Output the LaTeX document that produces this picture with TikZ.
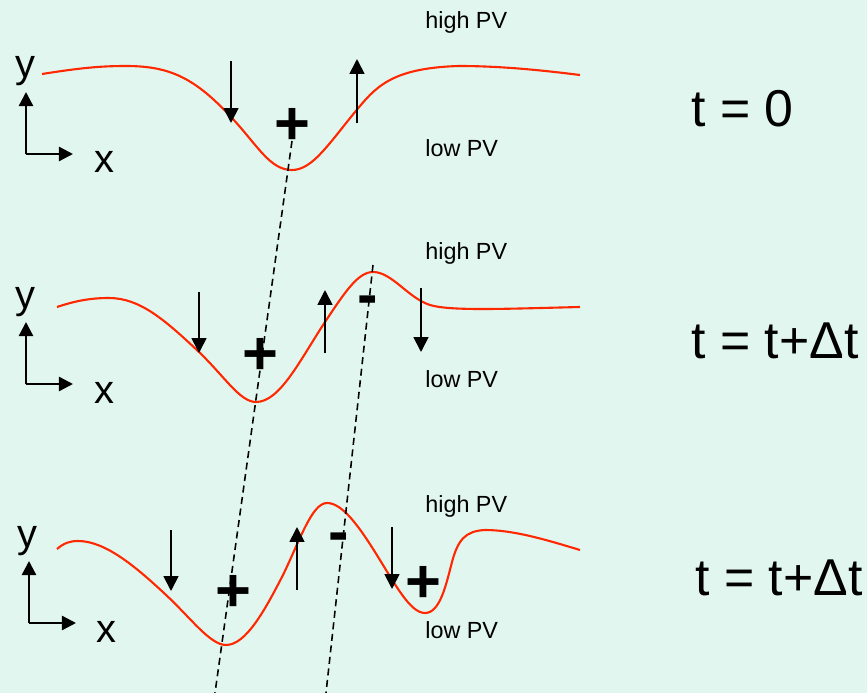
\documentclass[tikz,border=0pt]{standalone}
\usepackage{fontspec}
\setmainfont{Liberation Sans}
\usetikzlibrary{arrows.meta}
\definecolor{bgmint}{RGB}{226,246,240}
\definecolor{wavered}{RGB}{255,40,0}

\begin{document}
\begin{tikzpicture}[
    x=0.02cm, y=-0.02cm,
    wave/.style={draw=wavered, line width=1.2pt},
    wind/.style={-{Triangle[length=8.5pt,width=8.5pt]}, line width=1pt},
    axis/.style={-{Triangle[length=8pt,width=8pt]}, line width=1.4pt},
    front/.style={dash pattern=on 4pt off 2.6pt, line width=0.9pt},
    pv/.style={anchor=base west, inner sep=0pt, font=\fontsize{13.3}{16}\selectfont},
    lab/.style={anchor=base west, inner sep=0pt, font=\fontsize{22.7}{26}\selectfont},
    tlab/.style={anchor=base west, inner sep=0pt, font=\fontsize{29.5}{34}\selectfont},
    sign/.style={inner sep=0pt, font=\fontsize{35}{35}\selectfont\bfseries},
    >=Stealth
  ]
    \fill[bgmint] (0,0) rectangle (867,693);
    \useasboundingbox (0,0) rectangle (867,693);

    % wave crests, one row per time
    \draw[wave] (42,74) .. controls (80,68) and (100,66) .. (126,66)
      .. controls (170,66) and (195,78) .. (232,118)
      .. controls (258,146) and (270,170) .. (292,170)
      .. controls (312,170) and (328,145) .. (355,112)
      .. controls (375,88) and (390,68) .. (459,66)
      .. controls (500,66) and (540,70) .. (580,75);
    \draw[wave] (57,307) .. controls (75,301) and (90,298) .. (109,298)
      .. controls (140,298) and (165,320) .. (199,352)
      .. controls (225,377) and (240,402) .. (256,402)
      .. controls (280,402) and (300,360) .. (325,322)
      .. controls (345,292) and (358,272) .. (373,272)
      .. controls (392,272) and (408,298) .. (430,305)
      .. controls (450,311) and (500,309) .. (580,307);
    \draw[wave] (57,549) .. controls (64,543) and (70,541) .. (78,541)
      .. controls (105,541) and (135,566) .. (165,594)
      .. controls (190,617) and (210,645) .. (226,645)
      .. controls (246,645) and (265,610) .. (283,575)
      .. controls (300,540) and (312,503) .. (327,503)
      .. controls (342,503) and (358,525) .. (375,552)
      .. controls (395,584) and (410,613) .. (425,613)
      .. controls (440,613) and (446,585) .. (452,562)
      .. controls (458,540) and (465,531) .. (485,530)
      .. controls (515,530) and (550,541) .. (580,550);

    % axes
    \foreach \ox/\oy/\i in {26/154/1, 26/384/2, 29/623/3} {
      \coordinate (o\i) at (\ox,\oy);
      \coordinate (oy\i) at (\ox,\oy-62);
      \coordinate (ox\i) at (\ox+47,\oy);
      \draw[axis] (o\i) -- (oy\i);
      \draw[axis] (o\i) -- (ox\i);
    }
    \node[lab] (ylab1) at (15,77) {y};
    \node[lab] (xlab1) at (94,173) {x};
    \node[lab] (ylab2) at (15,308) {y};
    \node[lab] (xlab2) at (94,403) {x};
    \node[lab] (ylab3) at (17,547) {y};
    \node[lab] (xlab3) at (96,642) {x};

    % vertical motion
    \foreach \x/\ya/\yb [count=\i] in {231/61/123, 357/123/59, 199/292/353, 325/353/290, 421/288/352, 171/530/591, 297/590/527, 392/527/589} {
      \coordinate (wa\i) at (\x,\ya);
      \coordinate (wb\i) at (\x,\yb);
      \draw[wind] (wa\i) -- (wb\i);
    }

    % anomalies
    \node[sign] (plus1) at (292,126) {+};
    \node[sign] (plus2) at (260,356) {+};
    \node[sign] (minus2) at (368,306) {-};
    \node[sign] (plus3) at (233,593) {+};
    \node[sign] (minus3) at (338.5,543) {-};
    \node[sign] (plus4) at (423,584) {+};

    % phase lines
    \coordinate (fa) at (292,141);
    \coordinate (fb) at (215,693);
    \coordinate (ga) at (373,265);
    \coordinate (gb) at (326,693);
    \draw[front] (fa) -- (fb);
    \draw[front] (ga) -- (gb);

    \node[pv] (high1) at (425,29) {high PV};
    \node[pv] (low1) at (425,156) {low PV};
    \node[pv] (high2) at (425,259) {high PV};
    \node[pv] (low2) at (425,387) {low PV};
    \node[pv] (high3) at (425,512) {high PV};
    \node[pv] (low3) at (425,638) {low PV};

    \node[tlab] (time1) at (691,126) {t = 0};
    \node[tlab] (time2) at (691,358) {t = t+Δt};
    \node[tlab] (time3) at (695,595) {t = t+Δt};
  \end{tikzpicture}
\end{document}
